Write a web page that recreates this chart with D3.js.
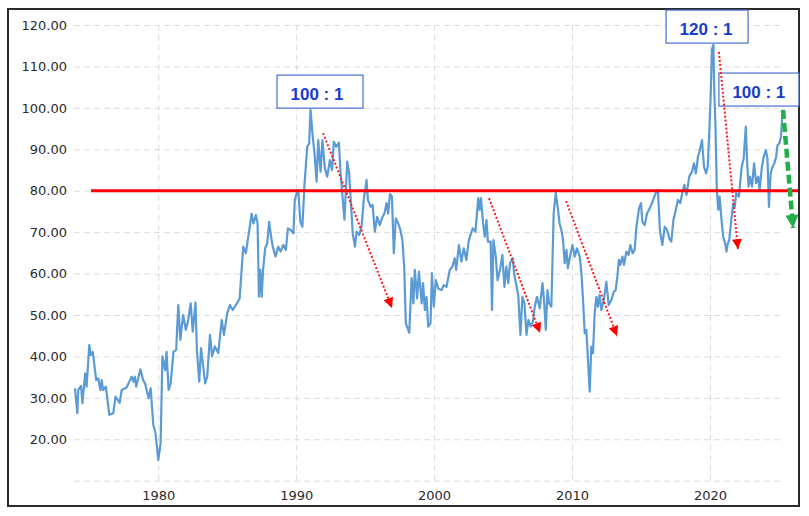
<!DOCTYPE html>
<html>
<head>
<meta charset="utf-8">
<script src="https://cdn.jsdelivr.net/npm/d3@7"></script>
<style>
  body { margin: 0; background: #fff; }
  svg { display: block; font-family: "DejaVu Sans", Verdana, sans-serif; }
  .grid line { stroke: #dcdcdc; stroke-dasharray: 6,4; }
  .grid path { display: none; }
  .grid text { fill: #2b2b2b; font-size: 13px; font-family: "DejaVu Sans", Verdana, sans-serif; }
  .note text { font-family: "Liberation Sans", Arial, sans-serif; font-weight: bold; font-size: 17px; fill: #1a3ccc; }
</style>
</head>
<body>
<svg id="chart" width="809" height="516"></svg>
<script>
// gold / silver ratio (decimal year, ratio)
const years = [
  1973.96,1974.13,1974.2,1974.4,1974.5,1974.7,1974.8,1975.0,1975.1,1975.25,1975.5,1975.65,1975.8,1975.9,1976.0,1976.2,1976.45,1976.74,1976.9,1977.2,
  1977.35,1977.7,1978.07,1978.2,1978.3,1978.4,1978.7,1978.9,1979.04,1979.3,1979.45,1979.64,1979.8,1980.0,1980.17,1980.3,1980.5,1980.6,1980.75,1980.9,
  1981.1,1981.3,1981.45,1981.6,1981.8,1982.0,1982.17,1982.35,1982.5,1982.7,1982.8,1982.97,1983.1,1983.4,1983.55,1983.75,1983.9,1984.1,1984.35,1984.6,
  1984.76,1985.0,1985.2,1985.4,1985.7,1985.9,1986.16,1986.35,1986.6,1986.77,1986.9,1987.08,1987.2,1987.3,1987.4,1987.5,1987.6,1987.75,1987.9,1988.04,
  1988.2,1988.3,1988.5,1988.7,1988.87,1989.06,1989.25,1989.4,1989.6,1989.8,1989.9,1990.07,1990.15,1990.3,1990.45,1990.6,1990.8,1990.94,1991.04,1991.2,
  1991.33,1991.48,1991.6,1991.77,1991.9,1992.08,1992.25,1992.44,1992.6,1992.73,1992.9,1993.1,1993.2,1993.36,1993.5,1993.7,1993.84,1993.94,1994.1,1994.26,
  1994.38,1994.57,1994.74,1994.9,1995.1,1995.2,1995.4,1995.54,1995.7,1995.87,1996.06,1996.26,1996.4,1996.55,1996.67,1996.8,1996.94,1997.08,1997.22,1997.4,
  1997.56,1997.7,1997.83,1997.95,1998.2,1998.37,1998.5,1998.6,1998.77,1998.9,1999.1,1999.2,1999.33,1999.45,1999.57,1999.74,1999.84,1999.98,2000.12,2000.3,
  2000.53,2000.7,2000.9,2001.14,2001.33,2001.5,2001.6,2001.8,2001.98,2002.15,2002.34,2002.5,2002.64,2002.8,2003.0,2003.2,2003.3,2003.4,2003.55,2003.67,
  2003.8,2003.9,2004.1,2004.2,2004.3,2004.47,2004.6,2004.8,2004.95,2005.1,2005.24,2005.38,2005.5,2005.7,2005.8,2005.96,2006.1,2006.26,2006.4,2006.55,
  2006.7,2006.84,2007.0,2007.17,2007.3,2007.46,2007.66,2007.86,2007.97,2008.1,2008.22,2008.34,2008.5,2008.67,2008.82,2008.96,2009.1,2009.23,2009.35,2009.47,
  2009.6,2009.7,2009.83,2010.03,2010.2,2010.36,2010.56,2010.68,2010.8,2010.92,2011.04,2011.16,2011.28,2011.4,2011.52,2011.64,2011.77,2011.88,2012.0,2012.13,
  2012.3,2012.49,2012.66,2012.85,2013.02,2013.16,2013.29,2013.4,2013.5,2013.66,2013.77,2013.94,2014.1,2014.23,2014.4,2014.54,2014.67,2014.86,2015.0,2015.1,
  2015.27,2015.44,2015.58,2015.8,2016.07,2016.23,2016.37,2016.55,2016.72,2016.9,2017.07,2017.2,2017.35,2017.5,2017.68,2017.85,2018.0,2018.15,2018.3,2018.5,
  2018.7,2018.84,2018.98,2019.13,2019.27,2019.42,2019.57,2019.72,2019.84,2019.96,2020.05,2020.15,2020.25,2020.3,2020.4,2020.5,2020.6,2020.7,2020.84,2020.96,
  2021.1,2021.2,2021.3,2021.4,2021.57,2021.7,2021.8,2021.9,2022.1,2022.3,2022.45,2022.6,2022.7,2022.8,2022.9,2023.05,2023.2,2023.35,2023.5,2023.6,
  2023.77,2023.9,2024.05,2024.17,2024.28,2024.4,2024.5,2024.67,2024.8,2024.9,2025.03,2025.15,2025.27
];
const ratios = [
  32.3,26.3,31.9,32.9,28.7,35.9,32.7,42.8,40.3,41.1,34.3,34.7,31.9,34.3,31.9,32.7,25.9,26.3,30.3,28.8,
  31.9,32.5,35.1,33.9,35.1,32.7,36.9,34.3,33.5,29.9,32.3,23.5,21.5,15.0,19.0,40.0,36.7,41.1,31.9,33.5,
  41.1,41.6,52.4,44.0,50.0,46.4,48.8,52.8,46.0,53.0,41.6,33.9,42.0,33.5,35.1,45.2,40.0,42.4,40.8,48.8,
  45.2,50.4,52.4,51.2,52.8,54.0,66.5,64.9,70.5,74.5,72.1,74.1,72.1,54.4,60.9,54.4,60.9,66.1,67.3,72.5,
  68.5,66.5,64.1,66.5,65.3,66.9,65.7,70.9,70.5,69.7,77.8,79.8,80.2,72.5,71.3,81.4,90.6,91.4,99.5,93.0,
  89.0,82.2,92.2,84.6,92.2,85.4,83.4,87.4,85.0,91.8,90.6,91.6,85.0,78.6,73.0,87.0,84.2,78.6,69.7,66.5,
  70.1,69.3,71.3,77.8,82.6,77.8,76.1,76.6,70.1,73.7,71.7,73.7,74.5,77.0,74.5,79.2,78.6,64.9,73.3,72.1,
  70.5,68.1,61.7,48.0,45.7,58.9,52.8,60.9,54.0,60.5,52.8,57.7,51.2,54.4,47.2,48.0,60.1,52.0,58.4,56.4,
  56.0,57.2,56.8,60.9,61.7,63.7,60.9,66.9,62.9,66.1,63.3,67.7,69.3,70.9,70.1,78.2,75.4,78.2,72.1,68.9,
  72.9,67.7,67.7,51.2,68.1,64.1,58.4,61.3,64.5,56.8,61.7,57.7,62.5,63.7,60.1,57.2,54.8,45.2,54.4,52.8,
  45.2,48.8,47.2,48.4,52.0,54.4,51.6,57.7,53.6,46.4,56.0,52.8,52.0,74.5,79.5,76.1,72.1,70.5,68.1,62.5,
  65.7,61.3,63.7,66.9,64.1,66.1,64.1,60.1,53.6,45.6,46.4,39.1,31.5,42.4,40.8,50.4,54.4,52.0,54.8,51.2,
  53.6,58.0,52.4,53.6,55.6,56.0,59.3,63.3,62.1,64.1,62.1,65.3,64.5,66.9,64.9,65.7,71.3,75.8,77.0,72.5,
  71.7,74.5,75.4,77.0,79.4,80.2,70.5,66.9,71.3,70.5,68.3,67.7,72.9,75.0,77.8,77.0,79.6,81.4,79.0,83.4,
  84.6,86.6,84.2,88.2,89.8,92.2,85.8,84.2,85.8,94.7,102.7,114.0,115.2,105.9,95.5,80.2,75.4,78.6,72.9,68.9,
  67.3,65.3,67.3,68.1,73.7,77.0,76.1,79.4,78.6,85.8,87.8,95.5,86.6,81.0,83.4,81.0,86.6,81.8,83.4,80.2,
  85.8,88.2,89.8,87.8,76.1,84.2,85.4,86.6,88.2,91.0,91.4,93.0,99.5
];

const yTicks = [10, 20, 30, 40, 50, 60, 70, 80, 90, 100, 110, 120];
const xTicks = [1980, 1990, 2000, 2010, 2020];

// horizontal reference level and its span
const refLevel = 80;
const refSpan = [1975.12, 2026.39];

// red dotted "decline" arrows: [year0, value0, year1, value1]
const declines = [
  [1991.95, 93.9, 1996.95, 51.7],
  [2003.98, 78.2, 2007.68, 45.7],
  [2009.57, 77.5, 2013.26, 44.9],
  [2020.65, 113.5, 2022.03, 65.9]
];
// green projected drop
const projection = [2025.3, 99.5, 2026.03, 71.0];

// label boxes: anchor (top-left) in data units
const labelText = ["100 : 1", "120 : 1", "100 : 1"];
const labelYear = [1988.61, 2016.82, 2020.65];
const labelValue = [107.9, 123.6, 108.4];
const labelWidth = [86, 82, 80];

const svg = d3.select("#chart");

const x = d3.scaleLinear().domain([1973.89, 2025.08]).range([74, 780]);
const y = d3.scaleLinear().domain([10, 120]).range([480.7, 25]);

// frame
svg.append("rect")
   .attr("x", 8).attr("y", 9)
   .attr("width", 791).attr("height", 497)
   .attr("fill", "none")
   .attr("stroke", "#2a2a2a")
   .attr("stroke-width", 2);

// y grid + labels
svg.append("g")
   .attr("class", "grid")
   .attr("transform", `translate(${x.range()[0]},0)`)
   .call(d3.axisLeft(y).tickValues(yTicks)
           .tickSize(-(x.range()[1] - x.range()[0]))
           .tickPadding(7)
           .tickFormat(d => d === 10 ? "" : d3.format(".2f")(d)));

// x grid + labels
svg.append("g")
   .attr("class", "grid")
   .attr("transform", `translate(0,${y(10)})`)
   .call(d3.axisBottom(x).tickValues(xTicks)
           .tickSize(-(y(10) - y(120)))
           .tickPadding(10)
           .tickFormat(d3.format("d")));

// the ratio line
const series = years.map((d, i) => [d, ratios[i]]);
svg.append("path")
   .datum(series)
   .attr("fill", "none")
   .attr("stroke", "#5b9bd5")
   .attr("stroke-width", 2.2)
   .attr("stroke-linejoin", "round")
   .attr("d", d3.line().x(d => x(d[0])).y(d => y(d[1])));

// 80 line
svg.append("line")
   .attr("x1", x(refSpan[0])).attr("x2", x(refSpan[1]))
   .attr("y1", y(refLevel)).attr("y2", y(refLevel))
   .attr("stroke", "#ff0000")
   .attr("stroke-width", 3);

// arrow heads
const defs = svg.append("defs");
defs.append("marker")
    .attr("id", "redHead")
    .attr("viewBox", "0 0 10 10")
    .attr("refX", 10).attr("refY", 5)
    .attr("markerWidth", 11).attr("markerHeight", 10)
    .attr("markerUnits", "userSpaceOnUse")
    .attr("orient", "auto")
    .append("path").attr("d", "M0,0L10,5L0,10Z").attr("fill", "#ff0000");
defs.append("marker")
    .attr("id", "greenHead")
    .attr("viewBox", "0 0 10 10")
    .attr("refX", 10).attr("refY", 5)
    .attr("markerWidth", 14).attr("markerHeight", 13)
    .attr("markerUnits", "userSpaceOnUse")
    .attr("orient", "auto")
    .append("path").attr("d", "M0,0L10,5L0,10Z").attr("fill", "#1fae48");

// label boxes
const notes = svg.append("g").attr("class", "note");
labelText.forEach((t, i) => {
  const bx = x(labelYear[i]), by = y(labelValue[i]);
  notes.append("rect")
       .attr("x", bx).attr("y", by)
       .attr("width", labelWidth[i]).attr("height", 33)
       .attr("fill", "#fff")
       .attr("stroke", "#4a6fd0")
       .attr("stroke-width", 1.2);
  notes.append("text")
       .attr("x", bx + 13.5).attr("y", by + 24.5)
       .text(t);
});

// red dotted decline arrows
svg.append("g").selectAll("line")
   .data(declines)
   .join("line")
   .attr("x1", d => x(d[0])).attr("y1", d => y(d[1]))
   .attr("x2", d => x(d[2])).attr("y2", d => y(d[3]))
   .attr("stroke", "#ff1a1a")
   .attr("stroke-width", 2)
   .attr("stroke-dasharray", "2,2")
   .attr("marker-end", "url(#redHead)");

// green dashed projection
svg.append("line")
   .attr("x1", x(projection[0])).attr("y1", y(projection[1]))
   .attr("x2", x(projection[2])).attr("y2", y(projection[3]))
   .attr("stroke", "#1fae48")
   .attr("stroke-width", 4.5)
   .attr("stroke-dasharray", "9,4")
   .attr("marker-end", "url(#greenHead)");
</script>
</body>
</html>
